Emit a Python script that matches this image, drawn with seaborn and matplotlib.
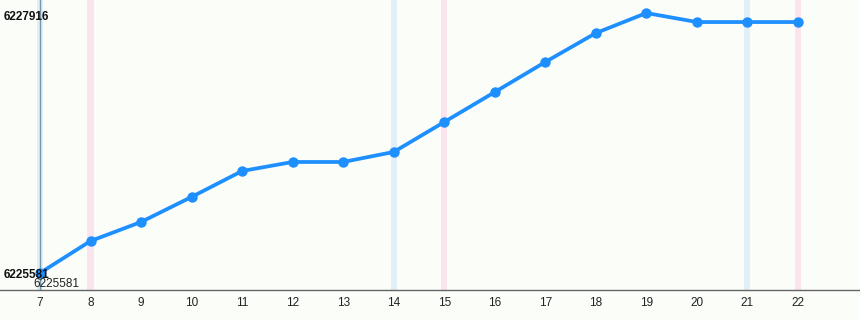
import matplotlib
matplotlib.use("Agg")
import matplotlib.pyplot as plt
import seaborn as sns
import pandas as pd

days = [7, 8, 9, 10, 11, 12, 13, 14, 15, 16, 17, 18, 19, 20, 21, 22]
values = [6225581, 6225868, 6226039, 6226264, 6226497, 6226578, 6226578, 6226668,
          6226937, 6227206, 6227476, 6227736, 6227916, 6227835, 6227835, 6227835]
blue_days = [7, 14, 21]
pink_days = [8, 15, 22]
max_label = "6227916"
min_label = "6225581"

sns.set_theme(style="white")
plt.rcParams['font.family'] = ['Liberation Sans', 'DejaVu Sans']

fig = plt.figure(figsize=(8.6, 3.2), dpi=100)
fig.patch.set_facecolor("#fbfdf9")
ax = fig.add_axes([0, 30/320, 1, 290/320])
ax.set_facecolor("#fbfdf9")

df = pd.DataFrame({"day": days, "value": values})

for d in blue_days:
    ax.axvspan(d - 0.06, d + 0.06, color="#e2eff8", lw=0, zorder=0)
for d in pink_days:
    ax.axvspan(d - 0.06, d + 0.06, color="#fce4ee", lw=0, zorder=0)
ax.axvline(days[0], color="#7896a6", lw=1, zorder=1)

sns.lineplot(data=df, x="day", y="value", ax=ax, color="#1e8fff", lw=2.7,
             marker="o", markersize=7.5, markeredgewidth=0, zorder=3)

ax.set_xlim(6.2084, 23.228)
ax.set_ylim(6225428, 6228033)
ax.set_xticks(days)
ax.set_xticklabels([str(d) for d in days], fontsize=8.5, color="#222222")
ax.set_yticks([])
ax.set_xlabel("")
ax.set_ylabel("")
ax.tick_params(axis="x", length=0, pad=5)
for s in ["top", "right", "left"]:
    ax.spines[s].set_visible(False)
ax.spines["bottom"].set_color("#666666")
ax.spines["bottom"].set_linewidth(1)

ax.text(4/860, 1 - 17/290, max_label, transform=ax.transAxes, fontsize=8.5,
        fontweight="bold", color="#111111", va="center", ha="left")
ax.text(4/860, 1 - 275/290, min_label, transform=ax.transAxes, fontsize=8.5,
        fontweight="bold", color="#111111", va="center", ha="left")
ax.text(33/860, 1 - 284/290, min_label, transform=ax.transAxes, fontsize=8.5,
        color="#222222", va="center", ha="left")

fig.savefig("out.png", dpi=100, facecolor=fig.get_facecolor())
